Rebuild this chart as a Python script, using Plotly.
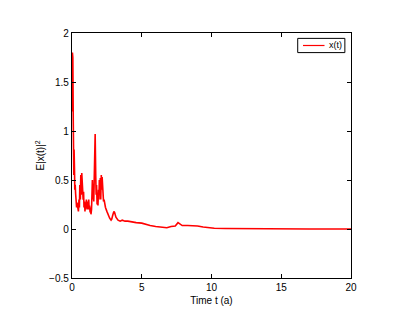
import plotly.graph_objects as go

# Sampled mean-square trajectory E|x(t)|^2
t = [0.00, 0.03, 0.06, 0.09, 0.11, 0.13, 0.15, 0.18, 0.20, 0.23, 0.26, 0.30, 0.33, 0.36,
     0.40, 0.43, 0.46, 0.50, 0.53, 0.56, 0.60, 0.63, 0.66, 0.70, 0.73, 0.76, 0.80, 0.83,
     0.86, 0.90, 0.93, 0.96, 1.00, 1.03, 1.06, 1.10, 1.13, 1.16, 1.20, 1.23, 1.26, 1.30,
     1.33, 1.36, 1.40, 1.43, 1.46, 1.50, 1.53, 1.56, 1.60, 1.63, 1.66, 1.70, 1.73, 1.76,
     1.80, 1.83, 1.86, 1.90, 1.93, 1.96, 2.00, 2.03, 2.06, 2.10, 2.13, 2.16, 2.20, 2.23,
     2.26, 2.30, 2.35, 2.40, 2.50, 2.60, 2.70, 2.80, 2.85, 2.90, 3.00, 3.05, 3.15, 3.30,
     3.45, 3.60, 3.80, 4.00, 4.30, 4.60, 5.00, 5.30, 5.60, 6.00, 6.40, 6.80, 7.10, 7.40,
     7.60, 7.75, 7.90, 8.30, 8.70, 9.00, 9.40, 9.80, 10.2, 11.0, 12.0, 14.0, 17.0, 20.0]
ex = [1.20, 1.80, 1.75, 1.10, 0.80, 0.55, 0.81, 0.60, 0.40, 0.45, 0.36, 0.28, 0.22, 0.27,
      0.20, 0.24, 0.18, 0.30, 0.22, 0.45, 0.30, 0.55, 0.35, 0.57, 0.40, 0.50, 0.30, 0.38,
      0.22, 0.28, 0.18, 0.26, 0.20, 0.30, 0.22, 0.28, 0.20, 0.25, 0.30, 0.20, 0.24, 0.17,
      0.22, 0.15, 0.20, 0.35, 0.50, 0.30, 0.45, 0.28, 0.60, 0.80, 0.97, 0.55, 0.35, 0.45,
      0.25, 0.32, 0.24, 0.40, 0.30, 0.50, 0.35, 0.52, 0.30, 0.55, 0.40, 0.53, 0.33, 0.38,
      0.28, 0.30, 0.25, 0.22, 0.18, 0.14, 0.11, 0.09, 0.10, 0.13, 0.18, 0.17, 0.12, 0.09,
      0.08, 0.09, 0.08, 0.08, 0.07, 0.065, 0.06, 0.045, 0.035, 0.025, 0.018, 0.013, 0.025, 0.03,
      0.065, 0.045, 0.035, 0.035, 0.033, 0.03, 0.02, 0.012, 0.008, 0.005, 0.003, 0.001, 0.0, 0.0]

x_ticks = [0, 5, 10, 15, 20]
y_ticks = [-0.5, 0, 0.5, 1, 1.5, 2]
y_tick_text = ["\u22120.5", "0", "0.5", "1", "1.5", "2"]
series_name = "x(t)"
line_color = "#ff0000"

fig = go.Figure()
fig.add_trace(go.Scatter(x=t, y=ex, mode="lines", name=series_name, showlegend=False,
                         line=dict(color=line_color, width=1.6)))

axis_style = dict(showline=True, linecolor="black", linewidth=1.3, mirror="ticks",
                  ticks="inside", ticklen=4, tickcolor="black", showgrid=False,
                  zeroline=False, tickfont=dict(family="Liberation Sans", size=10, color="black"))

# Compact boxed legend in the upper-right corner of the axes
fig.add_shape(type="rect", xref="paper", yref="paper", x0=0.809, x1=0.978, y0=0.920, y1=0.978,
              line=dict(color="black", width=1), fillcolor="white", layer="above")
fig.add_shape(type="line", xref="paper", yref="paper", x0=0.828, x1=0.905, y0=0.949, y1=0.949,
              line=dict(color=line_color, width=1.2), layer="above")
fig.add_annotation(text=series_name, xref="paper", yref="paper", x=0.914, y=0.949,
                   xanchor="left", yanchor="middle", showarrow=False,
                   font=dict(family="Liberation Sans", size=9, color="black"))

fig.update_layout(
    width=401, height=323,
    margin=dict(l=72, r=50, t=33, b=45),
    paper_bgcolor="white", plot_bgcolor="white",
    font=dict(family="Liberation Sans", size=10, color="black"),
    xaxis=dict(range=[0, 20], tickvals=x_ticks,
               title=dict(text="Time t (a)", standoff=4, font=dict(size=10)), **axis_style),
    yaxis=dict(range=[-0.5, 2], tickvals=y_ticks, ticktext=y_tick_text,
               title=dict(text="E|x(t)|<sup>2</sup>", standoff=2, font=dict(size=10)), **axis_style),
    showlegend=False,
)

fig.write_html("out.html")
